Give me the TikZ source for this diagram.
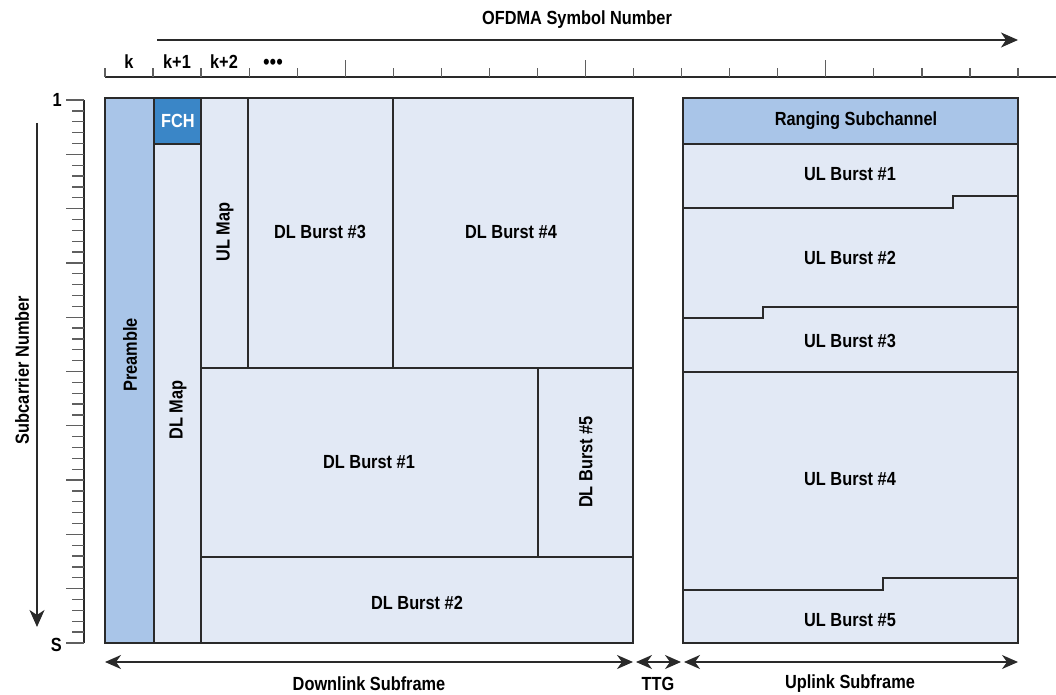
\documentclass[tikz,border=0pt]{standalone}
\usepackage{fontspec}
\setmainfont[FakeStretch=0.86]{Liberation Sans}
\usetikzlibrary{arrows.meta}

\definecolor{frameline}{HTML}{2A2A2A}
\definecolor{burstfill}{HTML}{E2E9F5}
\definecolor{preamblefill}{HTML}{A9C5E8}
\definecolor{fchfill}{HTML}{3A86C7}

\tikzset{
  lbl/.style={font=\fontsize{19}{22}\selectfont\bfseries, text=black, inner sep=0pt},
  region/.style={draw=frameline, line width=1.6pt, fill=burstfill},
  stepline/.style={draw=frameline, line width=1.6pt},
  axisline/.style={draw=frameline, line width=1.6pt},
  ticklines/.style={draw=frameline!75, line width=1.3pt},
  onetip/.style={-{Stealth[length=17pt, width=15pt, inset=5pt]}},
  twotip/.style={{Stealth[length=16pt, width=14pt, inset=5pt]}-{Stealth[length=16pt, width=14pt, inset=5pt]}},
}

\begin{document}
\begin{tikzpicture}[x=1pt, y=-1pt]
  \useasboundingbox (0,0) rectangle (1056,695);

  % OFDMA symbol axis
  \coordinate (symstart) at (157,40);
  \coordinate (symend) at (1018,40);
  \draw[axisline, onetip] (symstart) -- (symend);
  \node (symlabel) [lbl] at (577,20) {OFDMA Symbol Number};
  \draw[axisline] (105,77) -- (1056,77);
  \foreach \i in {0,...,19} {
    \pgfmathsetmacro\xx{105+\i*48.05}
    \pgfmathsetmacro\ytop{(mod(\i,5)==0 && \i>0) ? 60 : 68}
    \draw[ticklines] (\xx,77) -- (\xx,\ytop);
  }
  \node (symk) [lbl] at (129,62) {k};
  \node (symk1) [lbl] at (177,62) {k+1};
  \node (symk2) [lbl] at (224,62) {k+2};
  \node (symdots) [lbl, font=\fontsize{22}{24}\selectfont] at (273,64) {\textbullet\textbullet\textbullet};

  % Subcarrier axis
  \coordinate (substart) at (37,123);
  \coordinate (subend) at (37,627);
  \draw[axisline, onetip] (substart) -- (subend);
  \node (sublabel) [lbl, rotate=90] at (22,370) {Subcarrier Number};
  \draw[axisline] (84,100) -- (84,643);
  \foreach \j in {0,...,50} {
    \pgfmathsetmacro\yy{100+\j*10.86}
    \pgfmathsetmacro\xleft{(mod(\j,5)==0) ? 66 : 72}
    \draw[ticklines] (84,\yy) -- (\xleft,\yy);
  }
  \node (subone) [lbl, anchor=east] at (62,100) {1};
  \node (subs) [lbl, anchor=east] at (62,645) {S};

  % Downlink subframe
  \draw[region, fill=preamblefill] (105,98) rectangle (154,643);
  \draw[region, fill=fchfill] (154,98) rectangle (201,144);
  \draw[region] (154,144) rectangle (201,643);
  \draw[region] (201,98) rectangle (248,368);
  \draw[region] (248,98) rectangle (393,368);
  \draw[region] (393,98) rectangle (633,368);
  \draw[region] (201,368) rectangle (538,557);
  \draw[region] (538,368) rectangle (633,557);
  \draw[region] (201,557) rectangle (633,643);

  \node (preamble) [lbl, rotate=90] at (130,355) {Preamble};
  \node (fch) [lbl, text=white] at (178,121) {FCH};
  \node (dlmap) [lbl, rotate=90] at (178,410) {DL Map};
  \node (ulmap) [lbl, rotate=90] at (225,232) {UL Map};
  \node (dlb3) [lbl] at (320,232) {DL Burst \#3};
  \node (dlb4) [lbl] at (511,232) {DL Burst \#4};
  \node (dlb1) [lbl] at (369,462) {DL Burst \#1};
  \node (dlb5) [lbl, rotate=90] at (586,462) {DL Burst \#5};
  \node (dlb2) [lbl] at (417,603) {DL Burst \#2};

  % Uplink subframe
  \draw[region] (683,98) rectangle (1018,643);
  \draw[region, fill=preamblefill] (683,98) rectangle (1018,144);
  \draw[stepline] (683,208) -- (953,208) -- (953,196) -- (1018,196);
  \draw[stepline] (683,318) -- (763,318) -- (763,307) -- (1018,307);
  \draw[stepline] (683,372) -- (1018,372);
  \draw[stepline] (683,590) -- (883,590) -- (883,578) -- (1018,578);

  \node (ranging) [lbl] at (856,121) {Ranging Subchannel};
  \node (ulb1) [lbl] at (850,174) {UL Burst \#1};
  \node (ulb2) [lbl] at (850,258) {UL Burst \#2};
  \node (ulb3) [lbl] at (850,341) {UL Burst \#3};
  \node (ulb4) [lbl] at (850,479) {UL Burst \#4};
  \node (ulb5) [lbl] at (850,620) {UL Burst \#5};

  % Subframe spans
  \coordinate (dlleft) at (105,662);
  \coordinate (dlright) at (633,662);
  \coordinate (ttgleft) at (636,662);
  \coordinate (ttgright) at (681,662);
  \coordinate (ulleft) at (684,662);
  \coordinate (ulright) at (1018,662);
  \draw[axisline, twotip] (dlleft) -- (dlright);
  \draw[axisline, twotip] (ttgleft) -- (ttgright);
  \draw[axisline, twotip] (ulleft) -- (ulright);
  \node (dllabel) [lbl] at (369,684) {Downlink Subframe};
  \node (ttglabel) [lbl] at (658,684) {TTG};
  \node (ullabel) [lbl] at (850,684) {Uplink Subframe};
\end{tikzpicture}
\end{document}
